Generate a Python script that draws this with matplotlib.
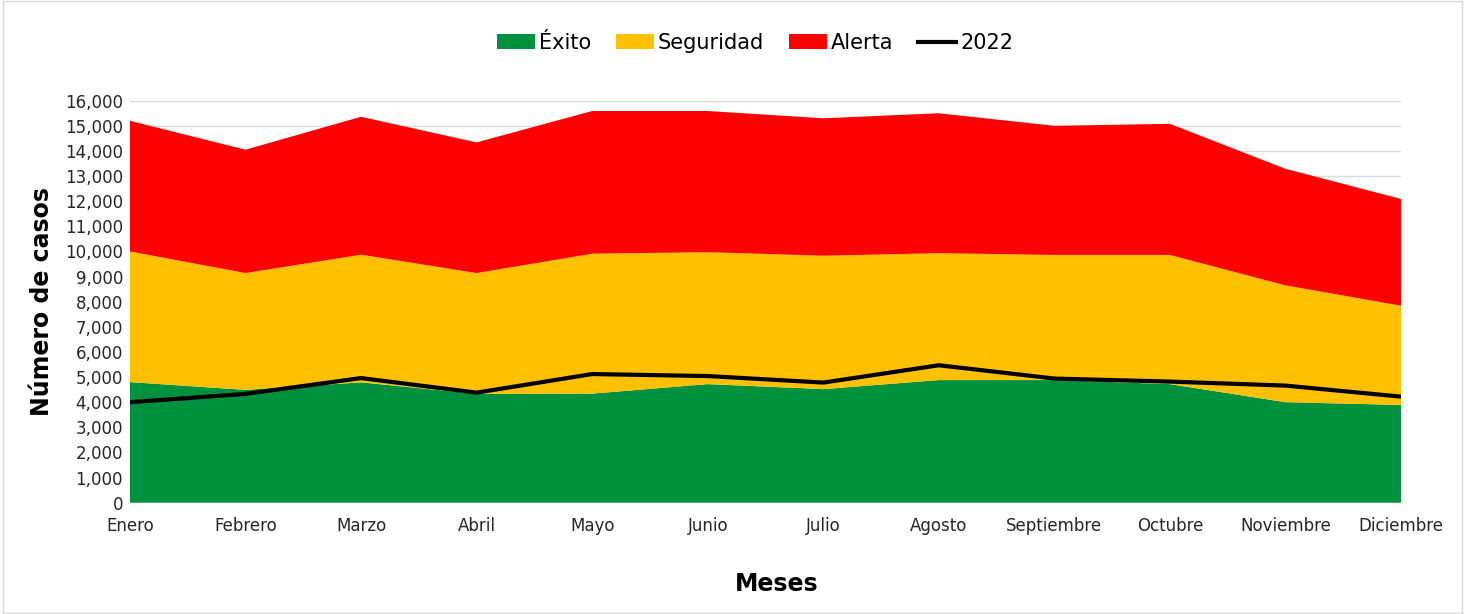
import numpy as np
import matplotlib
matplotlib.use("Agg")
import matplotlib.pyplot as plt
from matplotlib.patches import Rectangle

meses = ["Enero", "Febrero", "Marzo", "Abril", "Mayo", "Junio", "Julio",
         "Agosto", "Septiembre", "Octubre", "Noviembre", "Diciembre"]

# valores acumulados
tope_exito = [4800, 4490, 4790, 4330, 4340, 4720, 4520, 4880, 4880, 4720, 4000, 3890]
tope_seguridad = [10000, 9140, 9870, 9140, 9910, 9970, 9830, 9930, 9860, 9860, 8650, 7840]
tope_alerta = [15200, 14050, 15360, 14340, 15590, 15590, 15300, 15500, 15000, 15080, 13290, 12090]
linea_2022 = [4000, 4330, 4960, 4380, 5120, 5040, 4780, 5470, 4940, 4820, 4660, 4220]

exito = np.array(tope_exito)
seguridad = np.array(tope_seguridad) - exito
alerta = np.array(tope_alerta) - np.array(tope_seguridad)

plt.rcParams["font.family"] = ["DejaVu Sans"]

fig = plt.figure(figsize=(14.65, 6.14), dpi=100)
ax = fig.add_axes([0.0887, 0.1813, 0.8676, 0.6547])

x = np.arange(len(meses))
ax.stackplot(x, exito, seguridad, alerta,
             colors=["#00913F", "#FFC000", "#FF0000"],
             labels=["Éxito", "Seguridad", "Alerta"], zorder=2)
ax.plot(x, linea_2022, color="black", lw=3, label="2022", zorder=3)

ax.set_xlim(0, 11)
ax.set_ylim(0, 16000)
ax.set_yticks(np.arange(0, 16001, 1000))
ax.set_yticklabels([f"{v:,}" for v in range(0, 16001, 1000)])
ax.set_xticks(x)
ax.set_xticklabels(meses)
ax.tick_params(axis="both", length=0, labelsize=12, colors="#262626")
ax.tick_params(axis="x", pad=10)
ax.tick_params(axis="y", pad=5)
ax.grid(axis="y", color="#d9d9d9", lw=1, zorder=0)
ax.set_axisbelow(True)
for s in ax.spines.values():
    s.set_visible(False)
ax.axhline(0, color="#d9d9d9", lw=1, zorder=1)

ax.set_ylabel("Número de casos", fontsize=17, fontweight="bold", labelpad=8)
ax.set_xlabel("Meses", fontsize=17, fontweight="bold")
ax.xaxis.set_label_coords(0.509, -0.172)

ax.legend(loc="center", bbox_to_anchor=(0.492, 1.1435), ncol=4, frameon=False,
          fontsize=15, handlelength=1.8, handletextpad=0.2, columnspacing=1.2)

fig.patches.append(Rectangle((0.002, 0.002), 0.996, 0.996, transform=fig.transFigure,
                             fill=False, edgecolor="#d9d9d9", lw=1))

fig.savefig("out.png", dpi=100)
